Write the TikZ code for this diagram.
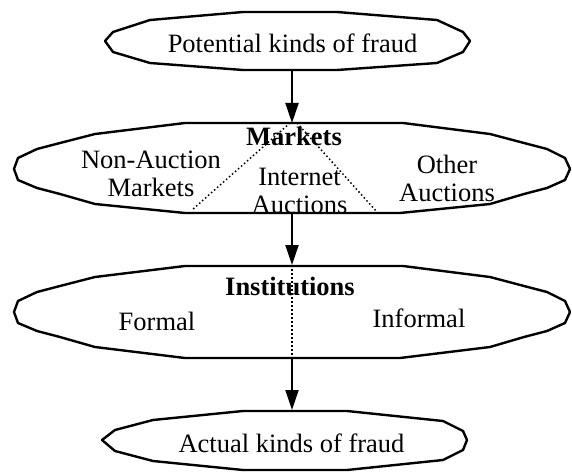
\documentclass[tikz,border=0pt]{standalone}
\usepackage{fontspec}
\setmainfont{Liberation Serif}
\usetikzlibrary{arrows.meta}
\begin{document}
\begin{tikzpicture}[x=1pt,y=-1pt,
  outline/.style={line width=2.4pt,line join=round},
  box/.style={inner sep=0pt,outer sep=0pt},
  lbl/.style={inner sep=0pt,anchor=base,align=center,
    font=\fontsize{26.5}{28}\selectfont},
  blbl/.style={lbl,font=\fontsize{26.5}{28}\selectfont\bfseries},
  arr/.style={line width=2pt,-{Triangle[length=20pt,width=13pt]}},
  dots/.style={line width=1.5pt,dash pattern=on 1.5pt off 2.5pt}]
\useasboundingbox (0,0) rectangle (572,473);
\fill[white] (0,0) rectangle (572,473);
% logical nodes of the four shapes
\node[box,minimum width=365pt,minimum height=58pt] (pot) at (287.5,41) {};
\node[box,minimum width=556pt,minimum height=90pt] (mkt) at (292,168) {};
\node[box,minimum width=556pt,minimum height=93pt] (inst) at (292,311.5) {};
\node[box,minimum width=365pt,minimum height=60pt] (act) at (284.5,440) {};
% outlines
\draw[outline] (105,41) -- (113,32) -- (150,20) -- (243,12) -- (337,12) -- (437,20) -- (463,32) -- (470,41) -- (463,52) -- (437,63) -- (337,70) -- (243,70) -- (150,63) -- (113,52) -- cycle;
\draw[outline] (14,169) -- (18,158) -- (37,149) -- (60,143) -- (95,134) -- (185,123) -- (403,123) -- (490,134) -- (524,143) -- (547,149) -- (565,158) -- (570,169) -- (565,180) -- (547,188) -- (524,194) -- (490,204) -- (400,213) -- (185,213) -- (95,204) -- (60,194) -- (37,188) -- (18,180) -- cycle;
\draw[outline] (14,312) -- (18,301) -- (37,292) -- (60,286) -- (95,277) -- (185,266) -- (403,266) -- (490,277) -- (524,286) -- (547,292) -- (565,301) -- (570,312) -- (565,323) -- (547,331) -- (524,337) -- (490,347) -- (400,358) -- (185,358) -- (95,347) -- (60,337) -- (37,331) -- (18,323) -- cycle;
\draw[outline] (102,440) -- (115,430) -- (153,420) -- (243,411) -- (347,411) -- (443,421) -- (463,431) -- (467,440) -- (463,450) -- (443,460) -- (347,470) -- (243,470) -- (153,461) -- (115,451) -- cycle;
% dotted partitions
\coordinate (dl1) at (290,123); \coordinate (dl2) at (192,210);
\coordinate (dr1) at (297,123); \coordinate (dr2) at (377,212);
\draw[dots] (dl1) -- (dl2);
\draw[dots] (dr1) -- (dr2);
\draw[dots] (inst.north) -- (inst.south);
% texts (base anchor = baseline of the last line)
\node[lbl] (tpot) at (292.5,53) {Potential kinds of fraud};
\node[blbl] (tmkt) at (294,146) {Markets};
\node[lbl] (tnon) at (151,196) {Non-Auction\\Markets};
\node[lbl] (tint) at (299.5,213) {Internet\\Auctions};
\node[lbl] (toth) at (447,201) {Other\\Auctions};
\node[blbl] (tinst) at (290,295) {Institutions};
\node[lbl] (tfor) at (157,330) {Formal};
\node[lbl] (tinf) at (419,327) {Informal};
\node[lbl] (tact) at (291.5,452) {Actual kinds of fraud};
% connectors
\draw[arr] (mkt.north |- pot.south) -- (mkt.north);
\draw[arr] (mkt.south) -- (inst.north);
\draw[arr] (inst.south) -- (inst.south |- act.north);
\end{tikzpicture}
\end{document}
